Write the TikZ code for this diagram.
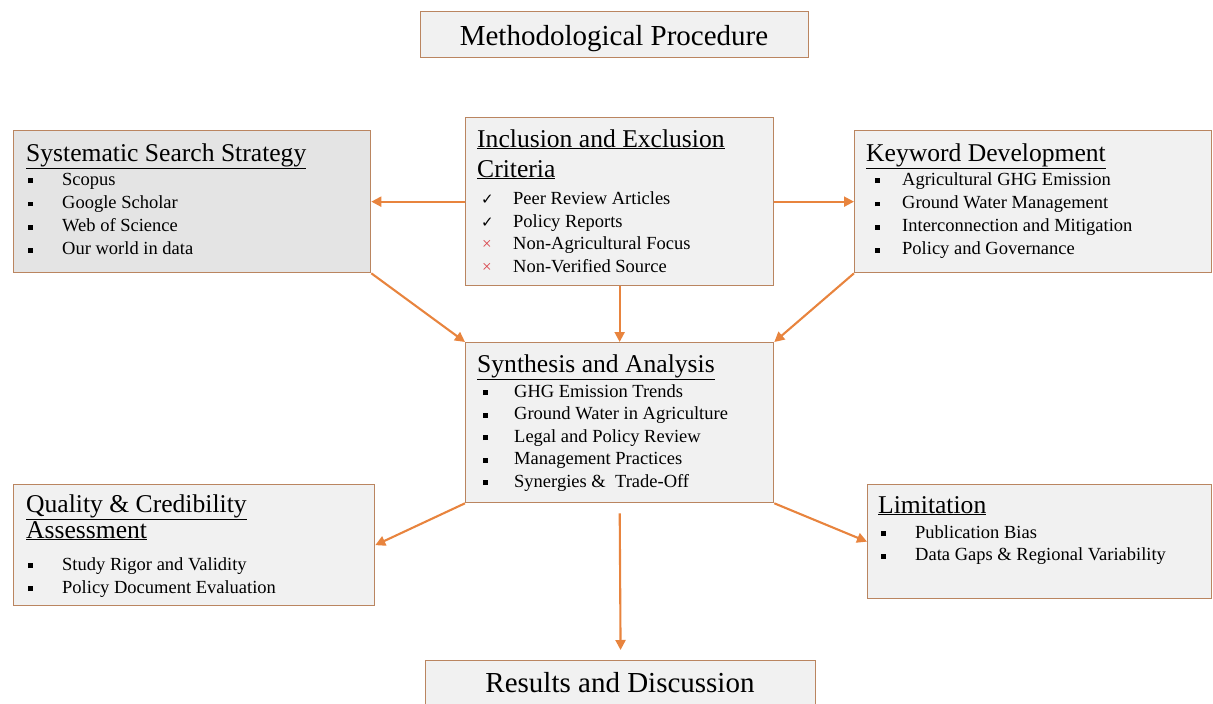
\documentclass[tikz,border=0pt]{standalone}
\usepackage{fontspec}
\setmainfont{Liberation Serif}
\newfontfamily\symfont{DejaVu Sans}
\usetikzlibrary{arrows.meta}
\definecolor{boxline}{HTML}{BA8560}
\definecolor{boxfill}{HTML}{F1F1F1}
\definecolor{boxfillB}{HTML}{E4E4E4}
\definecolor{arrowc}{HTML}{E8843E}
\definecolor{xred}{HTML}{D9434A}
\newcommand{\bsq}{\rule[2pt]{4.6pt}{4.6pt}}
\newcommand{\chk}{{\symfont\fontsize{15}{15}\selectfont ✓}}
\newcommand{\crs}{{\color{xred}\fontsize{17}{17}\selectfont ×}}
\tikzset{
  panel/.style={draw=boxline, fill=boxfill, line width=1.3pt, rectangle, inner sep=0pt, anchor=north west},
  ttl/.style={anchor=base, inner sep=0pt, font=\fontsize{29}{29}\selectfont},
  hd/.style={anchor=base west, inner sep=0pt, font=\fontsize{25.6}{25.6}\selectfont},
  itm/.style={anchor=base west, inner sep=0pt, font=\fontsize{18.5}{18.5}\selectfont},
  arr/.style={draw=arrowc, line width=2.1pt, -{Triangle[length=10pt,width=10pt]}}
}
\begin{document}
\begin{tikzpicture}[x=1pt,y=-1pt]
\useasboundingbox (0,0) rectangle (1213,704);
% boxes
\node[panel, minimum width=388pt, minimum height=46pt] (title) at (420,11) {};
\node[ttl] (titletext) at (614,45) {Methodological Procedure};
\node[panel, fill=boxfillB, minimum width=357pt, minimum height=142pt] (sys) at (13,130) {};
\node[panel, minimum width=308pt, minimum height=168pt] (inc) at (465,117) {};
\node[panel, minimum width=357pt, minimum height=142pt] (key) at (854,130) {};
\node[panel, minimum width=308pt, minimum height=160pt] (syn) at (465,342) {};
\node[panel, minimum width=361pt, minimum height=121pt] (qual) at (13,484) {};
\node[panel, minimum width=344pt, minimum height=114pt] (lim) at (867,484) {};
\node[panel, minimum width=390pt, minimum height=60pt] (res) at (425,660) {};
\node[ttl] (restext) at (620,692) {Results and Discussion};
% systematic
\node[hd] (sysh) at (26,161) {\underline{Systematic Search Strategy}};
\foreach \t [count=\i] in {Scopus, Google Scholar, Web of Science, Our world in data}{
  \node[itm] (sysb\i) at (28,{185+23.3*(\i-1)}) {\bsq};
  \node[itm] (syst\i) at (62,{185+23.3*(\i-1)}) {\t};
}
% inclusion
\node[hd] (inch1) at (477,147) {\underline{Inclusion and Exclusion}};
\node[hd] (inch2) at (477,177) {\underline{Criteria}};
\node[itm] (incb1) at (481,204) {\chk};
\node[itm] (inct1) at (513,204) {Peer Review Articles};
\node[itm] (incb2) at (481,227) {\chk};
\node[itm] (inct2) at (513,227) {Policy Reports};
\node[itm] (incb3) at (482,249.5) {\crs};
\node[itm] (inct3) at (513,249.5) {Non-Agricultural Focus};
\node[itm] (incb4) at (482,272) {\crs};
\node[itm] (inct4) at (513,272) {Non-Verified Source};
% keyword
\node[hd] (keyh) at (866,161) {\underline{Keyword Development}};
\foreach \t [count=\i] in {Agricultural GHG Emission, Ground Water Management, Interconnection and Mitigation, Policy and Governance}{
  \node[itm] (keyb\i) at (875,{185+23.3*(\i-1)}) {\bsq};
  \node[itm] (keyt\i) at (902,{185+23.3*(\i-1)}) {\t};
}
% synthesis
\node[hd] (synh) at (477,372) {\underline{Synthesis and Analysis}};
\foreach \t [count=\i] in {GHG Emission Trends, Ground Water in Agriculture, Legal and Policy Review, Management Practices, Synergies \&~ Trade-Off}{
  \node[itm] (synb\i) at (483,{397+22.5*(\i-1)}) {\bsq};
  \node[itm] (synt\i) at (514,{397+22.5*(\i-1)}) {\t};
}
% quality
\node[hd] (qualh1) at (26,512) {\underline{Quality \& Credibility}};
\node[hd] (qualh2) at (26,538) {\underline{Assessment}};
\foreach \t [count=\i] in {Study Rigor and Validity, Policy Document Evaluation}{
  \node[itm] (qualb\i) at (28,{570+23*(\i-1)}) {\bsq};
  \node[itm] (qualt\i) at (62,{570+23*(\i-1)}) {\t};
}
% limitation
\node[hd] (limh) at (878,513) {\underline{Limitation}};
\foreach \t [count=\i] in {Publication Bias, Data Gaps \& Regional Variability}{
  \node[itm] (limb\i) at (881,{538+22.5*(\i-1)}) {\bsq};
  \node[itm] (limt\i) at (915,{538+22.5*(\i-1)}) {\t};
}
% arrows
\draw[arr] (inc.west) -- (sys.east);
\draw[arr] (inc.east) -- (key.west);
\draw[arr] (inc.south) -- (syn.north);
\draw[arr] (sys.south east) -- (syn.north west);
\draw[arr] (key.south west) -- (syn.north east);
\draw[arr] (syn.south west) -- (qual.east);
\draw[arr] (syn.south east) -- (lim.west);
\draw[arr, shorten <=10pt, shorten >=10pt] (syn.south) -- (res.north);
\end{tikzpicture}
\end{document}
